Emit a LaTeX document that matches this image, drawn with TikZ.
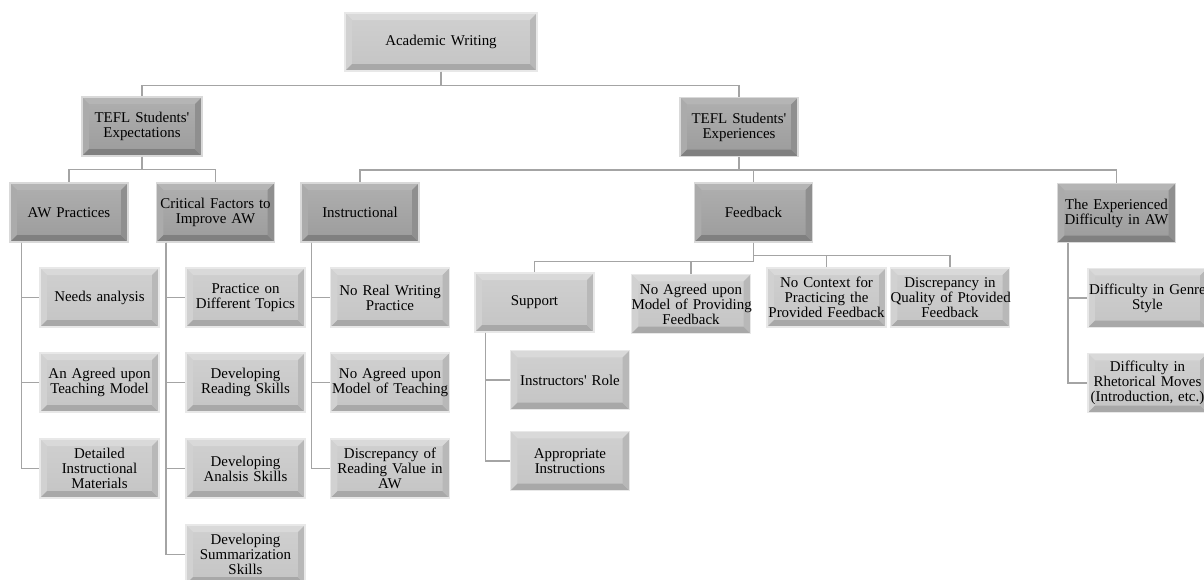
\documentclass[tikz,border=0pt]{standalone}
\usepackage{fontspec}
\newfontfamily\tf{Liberation Serif}[Ligatures=TeXOff]
\begin{document}
\begin{tikzpicture}[x=0.75pt,y=-0.75pt]
\definecolor{linec}{HTML}{A4A4A4}
\tikzset{
  bev/.style n args={6}{rectangle, inner sep=0pt, align=center,
    font=\tf\fontsize{11.2}{11.25}\selectfont,
    top color=#1!80!white, bottom color=#1, draw=#6, line width=0.9pt,
    path picture={
      \def\bw{5.2pt}
      \fill[#2] (path picture bounding box.north west) -- (path picture bounding box.north east)
        -- ([shift={(-\bw,-\bw)}]path picture bounding box.north east)
        -- ([shift={(\bw,-\bw)}]path picture bounding box.north west) -- cycle;
      \fill[#3] (path picture bounding box.north west) -- (path picture bounding box.south west)
        -- ([shift={(\bw,\bw)}]path picture bounding box.south west)
        -- ([shift={(\bw,-\bw)}]path picture bounding box.north west) -- cycle;
      \fill[#4] (path picture bounding box.south west) -- (path picture bounding box.south east)
        -- ([shift={(-\bw,\bw)}]path picture bounding box.south east)
        -- ([shift={(\bw,\bw)}]path picture bounding box.south west) -- cycle;
      \fill[#5] (path picture bounding box.north east) -- (path picture bounding box.south east)
        -- ([shift={(-\bw,\bw)}]path picture bounding box.south east)
        -- ([shift={(-\bw,-\bw)}]path picture bounding box.north east) -- cycle;
    }},
  dark/.style={bev={gray!78!white}{gray!58!white}{gray!66!white}{gray!100!white}{gray!88!white}{gray!30!white},
    text width=88.5pt, minimum height=44.25pt},
  light/.style={bev={gray!46!white}{gray!30!white}{gray!36!white}{gray!68!white}{gray!56!white}{gray!18!white},
    text width=89.25pt, minimum height=44.25pt},
  conn/.style={draw=linec, line width=1.1pt},
}
\useasboundingbox (0,0) rectangle (1204,579);
\clip (0,0) rectangle (1204,579);
\fill[white] (0,0) rectangle (1204,579);

% level 1
\node[light, text width=144pt, minimum height=43.5pt] (aw) at (441,42) {Academic Writing};
% level 2
\node[dark, text width=90pt] (exp) at (142,126.5) {TEFL Students'\\Expectations};
\node[dark] (expr) at (739,127) {TEFL Students'\\Experiences};
% level 3
\node[dark] (awp) at (69,212.5) {AW Practices};
\node[dark] (cf) at (215.5,212.5) {\mbox{Critical Factors to}\\Improve AW};
\node[dark] (ins) at (360,212.5) {Instructional};
\node[dark] (fb) at (753.5,212.5) {Feedback};
\node[dark] (dif) at (1116.5,213) {The Experienced\\Difficulty in AW};
% leaves under AW Practices
\node[light] (na) at (99.5,297.5) {Needs analysis};
\node[light] (atm) at (99.5,382.5) {An Agreed upon\\Teaching Model};
\node[light] (dim) at (99.5,468.5) {Detailed\\Instructional\\Materials};
% leaves under Critical Factors
\node[light] (pdt) at (245.5,297.5) {Practice on\\\mbox{Different Topics}};
\node[light] (drs) at (245.5,382.5) {Developing\\Reading Skills};
\node[light] (das) at (245.5,468.5) {Developing\\Analsis Skills};
\node[light] (dss) at (245.5,554.5) {Developing\\Summarization\\Skills};
% leaves under Instructional
\node[light] (nrw) at (390,297.5) {No Real Writing\\Practice};
\node[light] (nam) at (390,382.5) {No Agreed upon\\\mbox{Model of Teaching}};
\node[light] (drv) at (390,468.5) {Discrepancy of\\\mbox{Reading Value in}\\AW};
% feedback children
\node[light] (sup) at (534.5,302.5) {Support};
\node[light] (nap) at (691,304) {No Agreed upon\\\mbox{Model of Providing}\\Feedback};
\node[light] (nc) at (826.5,297.5) {No Context for\\Practicing the\\\mbox{Provided Feedback}};
\node[light] (dq) at (950,297.5) {Discrepancy in\\\mbox{Quality of Ptovided}\\Feedback};
% support children
\node[light] (ir) at (570,380) {Instructors' Role};
\node[light] (ai) at (570,461) {Appropriate\\Instructions};
% difficulty children
\node[light] (dg) at (1147.5,298) {\mbox{Difficulty in Genre}\\Style};
\node[light] (drm) at (1147.5,383) {Difficulty in\\\mbox{Rhetorical Moves}\\\mbox{(Introduction, etc.)}};

% connectors
\path[conn] (aw.south) -- ++(0,14) -| (exp.north);
\path[conn] (aw.south) -- ++(0,14) -| (expr.north);
\path[conn] (exp.south) -- ++(0,13) -| (awp.north);
\path[conn] (exp.south) -- ++(0,13) -| (cf.north);
\path[conn] (expr.south) -- ++(0,13) -| (ins.north);
\path[conn] (expr.south) -- ++(0,13) -| (fb.north);
\path[conn] (expr.south) -- ++(0,13) -| (dif.north);

\path[conn] ([xshift=9pt]awp.south west) |- (na.west);
\path[conn] ([xshift=9pt]awp.south west) |- (atm.west);
\path[conn] ([xshift=9pt]awp.south west) |- (dim.west);
\path[conn] ([xshift=7.5pt]cf.south west) |- (pdt.west);
\path[conn] ([xshift=7.5pt]cf.south west) |- (drs.west);
\path[conn] ([xshift=7.5pt]cf.south west) |- (das.west);
\path[conn] ([xshift=7.5pt]cf.south west) |- (dss.west);
\path[conn] ([xshift=8.25pt]ins.south west) |- (nrw.west);
\path[conn] ([xshift=8.25pt]ins.south west) |- (nam.west);
\path[conn] ([xshift=8.25pt]ins.south west) |- (drv.west);
\path[conn] ([xshift=8.25pt]sup.south west) |- (ir.west);
\path[conn] ([xshift=8.25pt]sup.south west) |- (ai.west);
\path[conn] ([xshift=8.25pt]dif.south west) |- (dg.west);
\path[conn] ([xshift=8.25pt]dif.south west) |- (drm.west);

\path[conn] (fb.south) -- ++(0,19) -| (sup.north);
\path[conn] (fb.south) ++(0,19) -| (nap.north);
\path[conn] (fb.south) -- ++(0,13) -| (nc.north);
\path[conn] (fb.south) ++(0,13) -| (dq.north);
\end{tikzpicture}
\end{document}
